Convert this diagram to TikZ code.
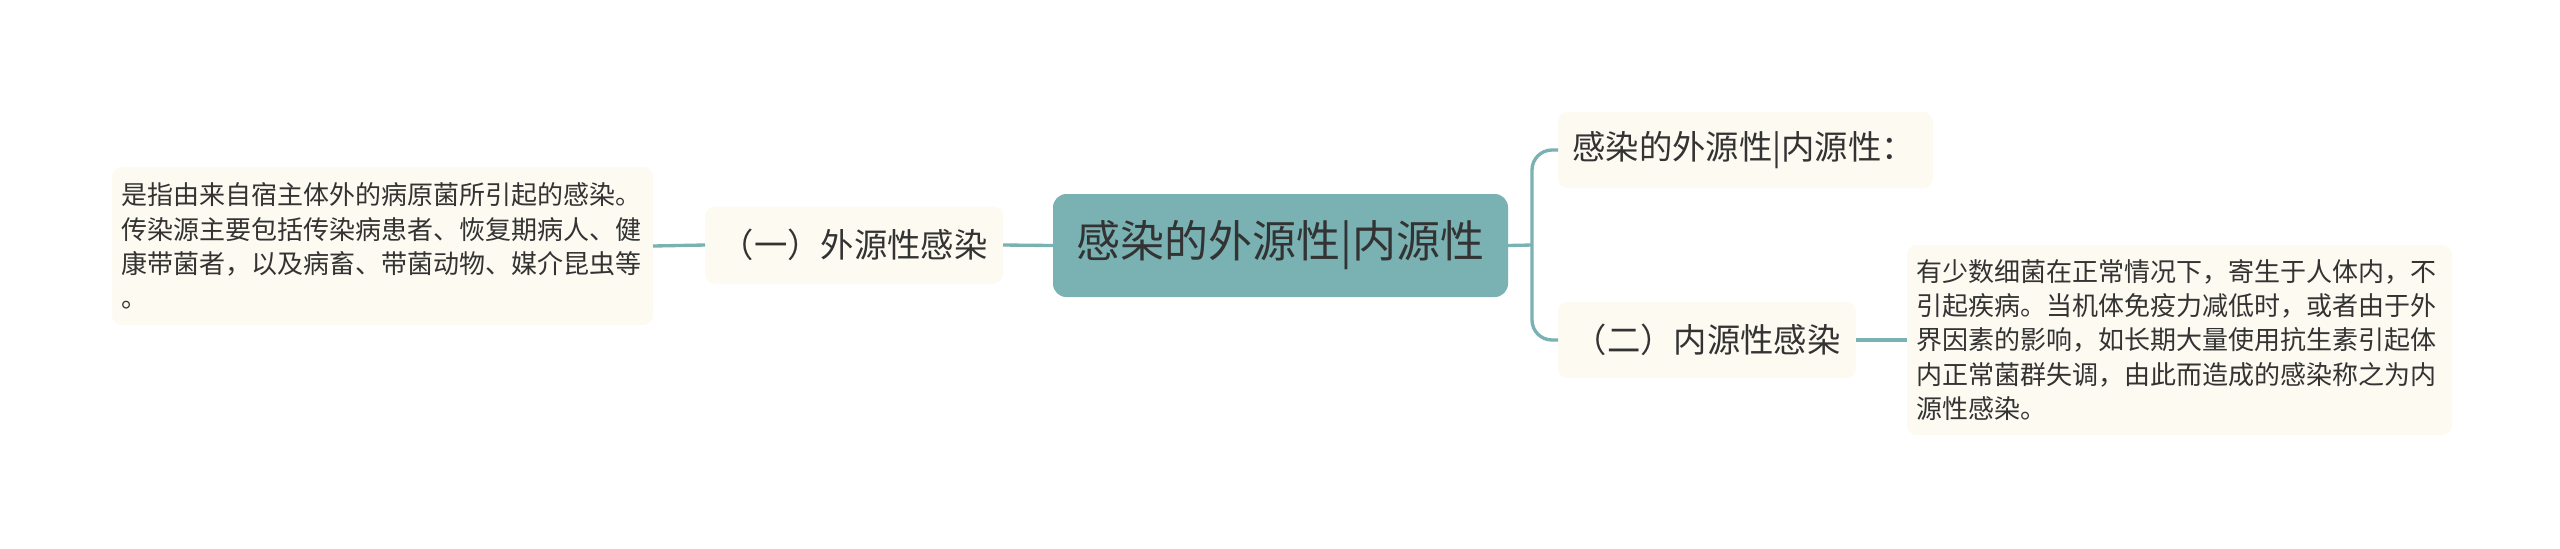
\documentclass[tikz,border=0pt]{standalone}
\usepackage{fontspec}
\newfontfamily\cjk{Noto Sans CJK SC}
\definecolor{teal1}{RGB}{122,178,180}
\definecolor{cream}{RGB}{252,250,241}
\definecolor{ink}{RGB}{51,51,51}
\begin{document}
\begin{tikzpicture}[x=0.3pt,y=-0.3pt,
  every node/.style={font=\cjk, text=ink, inner sep=0pt, outer sep=0pt},
  rootbox/.style={fill=teal1, rounded corners=4pt, font=\cjk\fontsize{13.2pt}{15pt}\selectfont},
  subbox/.style={fill=cream, rounded corners=3pt, font=\cjk\fontsize{10pt}{12pt}\selectfont},
  leafbox/.style={fill=cream, rounded corners=3pt, align=left, font=\cjk\fontsize{7.8pt}{10.3pt}\selectfont},
  link/.style={draw=teal1, line width=1pt},
]
\useasboundingbox (0,0) rectangle (2560,548);
\fill[white] (0,0) rectangle (2560,548);
% root
\node[rootbox, minimum width=455*0.3pt, minimum height=103*0.3pt] (root) at (1280.5,245.5) {感染的外源性|内源性};
% left
\node[subbox, minimum width=298*0.3pt, minimum height=77*0.3pt] (ext) at (854,245) {（一）外源性感染};
\node[leafbox, minimum width=541*0.3pt, minimum height=158*0.3pt, text width=522*0.3pt] (extleaf) at (382.5,246) {是指由来自宿主体外的病原菌所引起的感染。\\传染源主要包括传染病患者、恢复期病人、健\\康带菌者，以及病畜、带菌动物、媒介昆虫等\\。};
% right
\node[subbox, minimum width=375*0.3pt, minimum height=76*0.3pt, anchor=west, text width=346*0.3pt, align=left] (rtop) at (1558,150) {感染的外源性|内源性：};
\node[subbox, minimum width=298*0.3pt, minimum height=76*0.3pt] (int) at (1707,340) {（二）内源性感染};
\node[leafbox, minimum width=545*0.3pt, minimum height=190*0.3pt, text width=526*0.3pt] (intleaf) at (2179.5,340) {有少数细菌在正常情况下，寄生于人体内，不\\引起疾病。当机体免疫力减低时，或者由于外\\界因素的影响，如长期大量使用抗生素引起体\\内正常菌群失调，由此而造成的感染称之为内\\源性感染。};
% connectors
\coordinate (fork) at (1532,245);
\draw[link] (root.west) -- (ext.east);
\draw[link] (ext.west) -- (extleaf.east);
\draw[link] (root.east) -- (fork);
\draw[link, rounded corners=6pt] (fork) |- (rtop.west);
\draw[link, rounded corners=6pt] (fork) |- (int.west);
\draw[link] (int.east) -- (intleaf.west);
\end{tikzpicture}
\end{document}
